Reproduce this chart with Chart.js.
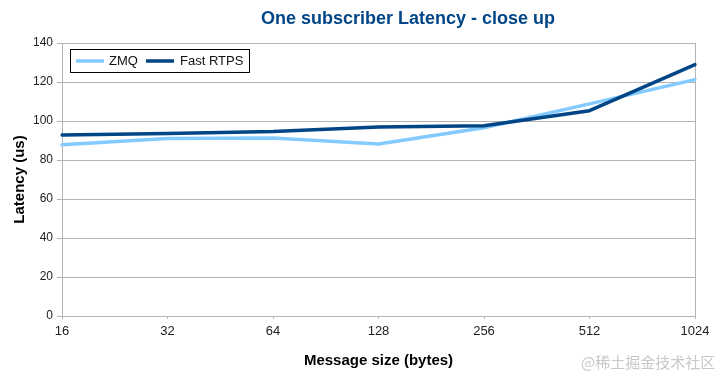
<!DOCTYPE html>
<html>
<head>
<meta charset="utf-8">
<script src="https://cdn.jsdelivr.net/npm/chart.js@4/dist/chart.umd.min.js"></script>
<style>
  body { margin: 0; background: #fff; }
  #wrap { position: relative; width: 721px; height: 377px; }
  #mark { position: absolute; left: 581px; top: 351px; font: 15px "Noto Sans CJK SC", sans-serif; color: #c8c8c8; white-space: nowrap; }
</style>
</head>
<body>
<div id="wrap">
  <canvas id="chart" width="721" height="377"></canvas>
  <span id="mark">@稀土掘金技术社区</span>
</div>
<script>
var sizes = ["16", "32", "64", "128", "256", "512", "1024"];
var zmq = [87.8, 91.0, 91.3, 88.2, 96.5, 108.8, 121.2];
var fastRtps = [92.8, 93.6, 94.6, 96.9, 97.6, 105.3, 128.9];

var chartTitle = "One subscriber Latency - close up";
var xTitle = "Message size (bytes)";
var yTitle = "Latency (us)";

var gridColor = "#b3b3b3";
var font = "'Liberation Sans', Arial, sans-serif";

// title and the boxed legend inside the plot are drawn by hand
var extras = {
  id: "extras",
  afterDraw: function(chart) {
    var c = chart.ctx;
    var area = chart.chartArea;
    c.save();
    c.fillStyle = "#004586";
    c.font = "bold 18px " + font;
    c.textAlign = "center";
    c.textBaseline = "middle";
    c.fillText(chartTitle, 408, 19);

    var x = area.left + 8, y = area.top + 6;
    c.fillStyle = "#fff";
    c.fillRect(x, y, 179, 23);
    c.strokeStyle = "#000";
    c.lineWidth = 1;
    c.strokeRect(x + 0.5, y + 0.5, 179, 23);

    c.font = "13px " + font;
    c.textAlign = "left";
    var items = [[chart.data.datasets[0], 6, 39], [chart.data.datasets[1], 76, 110]];
    items.forEach(function(it) {
      c.strokeStyle = it[0].borderColor;
      c.lineWidth = 3.5;
      c.beginPath();
      c.moveTo(x + it[1], y + 12);
      c.lineTo(x + it[1] + 28, y + 12);
      c.stroke();
      c.fillStyle = "#111";
      c.fillText(it[0].label, x + it[2], y + 12.5);
    });
    c.restore();
  }
};

var ctx = document.getElementById("chart").getContext("2d");
var myChart = new Chart(ctx, {
  type: "line",
  data: {
    labels: sizes,
    datasets: [
      { label: "ZMQ", data: zmq, borderColor: "#83caff", backgroundColor: "#83caff", order: 1 },
      { label: "Fast RTPS", data: fastRtps, borderColor: "#004586", backgroundColor: "#004586", order: 0 }
    ]
  },
  options: {
    responsive: false,
    animation: false,
    layout: { padding: { top: 43, right: 26, left: 0, bottom: 0 } },
    elements: {
      line: { borderWidth: 3.5, tension: 0, borderCapStyle: "round", borderJoinStyle: "round" },
      point: { radius: 0 }
    },
    plugins: {
      legend: { display: false },
      title: { display: false },
      tooltip: { enabled: false }
    },
    scales: {
      x: {
        offset: false,
        afterFit: function(s) { s.height = 61; },
        grid: {
          color: function(g) { return g.index === sizes.length - 1 ? gridColor : "transparent"; },
          tickColor: gridColor,
          tickLength: 3
        },
        border: { color: gridColor },
        ticks: { color: "#222", font: { size: 13, family: font }, padding: 5, maxRotation: 0 },
        title: { display: true, text: xTitle, color: "#000", font: { size: 15, weight: "bold", family: font }, padding: { top: 7, bottom: 7 } }
      },
      y: {
        min: 0,
        max: 140,
        afterFit: function(s) { s.width = 62; },
        grid: { color: gridColor, tickLength: 5 },
        border: { color: gridColor },
        ticks: { stepSize: 20, color: "#222", font: { size: 12, family: font }, padding: 4 },
        title: { display: true, text: yTitle, color: "#000", font: { size: 15, weight: "bold", family: font }, padding: { top: 11, bottom: 11 } }
      }
    }
  },
  plugins: [extras]
});
</script>
</body>
</html>
